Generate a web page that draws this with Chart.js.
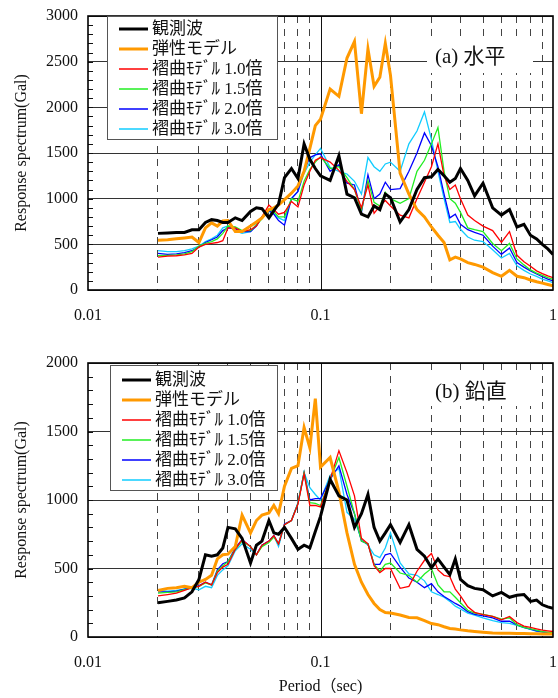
<!DOCTYPE html>
<html><head><meta charset="utf-8">
<script src="https://cdn.jsdelivr.net/npm/chart.js@4.4.1/dist/chart.umd.min.js"></script>
<style>
html,body{margin:0;padding:0;background:#fff;width:558px;height:698px;overflow:hidden}
canvas{position:absolute;left:0}
#c1{top:0}
#c2{top:330px}
</style></head><body>
<canvas id="c1" width="558" height="330"></canvas>
<canvas id="c2" width="558" height="368"></canvas>
<script>
// ---- data ----
const periods = [0.02,0.022,0.024,0.026,0.028,0.03,0.032,0.034,0.036,0.038,0.04,0.043,0.046,0.05,0.053,0.056,0.06,0.063,0.066,0.07,0.075,0.08,0.085,0.09,0.095,0.1,0.11,0.12,0.13,0.14,0.15,0.16,0.17,0.18,0.19,0.2,0.22,0.24,0.26,0.28,0.3,0.32,0.34,0.36,0.38,0.4,0.43,0.46,0.5,0.55,0.6,0.65,0.7,0.75,0.8,0.85,0.9,0.95,1.0];
const seriesLabels = ['観測波','弾性モデル','褶曲ﾓﾃﾞﾙ 1.0倍','褶曲ﾓﾃﾞﾙ 1.5倍','褶曲ﾓﾃﾞﾙ 2.0倍','褶曲ﾓﾃﾞﾙ 3.0倍'];

// (a) horizontal
const hObserved = [620,625,630,630,660,660,740,770,760,740,740,790,760,860,900,890,790,870,940,1230,1330,1220,1600,1430,1330,1250,1200,1470,1050,1010,830,800,920,880,1050,1010,745,880,1100,1230,1240,1320,1250,1180,1220,1330,1200,1030,1170,900,820,880,690,720,600,560,500,450,390];
const hElastic = [545,550,560,570,580,520,680,735,700,755,760,640,640,700,745,790,880,900,930,990,1060,1140,1300,1550,1800,1870,2200,2120,2540,2720,1930,2640,2230,2330,2700,2350,1280,1050,880,800,690,600,520,330,360,340,300,280,250,190,150,215,150,135,110,90,75,60,47];
const hFold10 = [360,370,375,385,400,470,500,510,520,540,680,680,640,660,700,800,930,880,830,850,970,910,1150,1300,1420,1450,1400,1310,1190,1100,900,1150,840,920,980,920,820,790,1000,1180,1350,1600,1250,1100,1150,1000,820,760,700,650,520,640,380,310,260,210,180,155,135];
const hFold15 = [375,380,385,395,420,480,510,530,560,620,700,690,650,650,710,780,880,860,800,800,1000,970,1190,1320,1400,1460,1330,1350,1230,1100,870,1200,960,920,1070,1000,950,1000,1300,1420,1600,1780,1300,1000,950,850,680,660,640,510,430,510,340,275,220,185,160,135,117];
const hFold20 = [400,390,395,410,430,470,520,550,580,650,680,670,640,640,700,800,870,830,760,710,1000,1080,1310,1450,1480,1490,1300,1370,1170,1150,850,1260,1000,1050,1180,1100,1110,1300,1500,1720,1580,1350,1050,790,830,720,660,630,600,480,390,460,300,250,210,175,145,120,100];
const hFold30 = [430,420,420,430,450,480,530,560,600,680,700,650,620,640,720,800,860,840,790,760,1000,1080,1280,1400,1480,1550,1340,1300,1270,1190,1050,1450,1350,1300,1380,1400,1300,1600,1740,1950,1650,1300,1000,740,750,665,580,545,530,440,350,400,265,215,175,150,120,100,80];

// (b) vertical
const vObserved = [250,260,270,285,330,420,600,590,600,650,800,790,720,540,670,700,850,760,750,800,720,640,670,650,770,880,1150,1030,1000,800,900,1040,800,700,760,820,690,820,640,590,505,570,510,455,570,420,375,355,345,300,325,290,305,310,260,270,235,220,210];
const vElastic = [340,355,360,370,360,400,420,450,570,600,605,660,890,760,850,890,905,960,900,1100,1230,1250,1530,1380,1740,1240,1310,1060,760,530,400,310,245,200,178,175,160,142,140,120,98,90,75,62,58,52,45,40,35,30,28,27,26,25,24,23,22,22,21];
const vFold10 = [300,310,320,340,360,370,400,380,470,510,530,640,710,660,600,670,700,740,680,820,850,970,1190,960,960,950,1150,1360,1200,1030,720,680,520,470,500,500,355,370,480,560,610,490,450,440,350,300,220,180,163,150,125,150,105,80,70,60,50,45,40];
const vFold15 = [320,325,330,345,360,370,395,380,480,520,550,640,700,660,600,660,690,730,680,820,850,975,1200,980,975,960,1150,1310,1100,900,700,680,530,480,530,540,467,450,400,460,500,380,330,330,290,250,195,175,165,150,130,140,88,70,60,50,40,35,30];
const vFold20 = [330,330,335,350,360,375,400,380,490,535,550,650,710,660,600,670,700,740,680,825,850,975,1200,1000,1010,1010,1150,1250,1040,900,700,680,530,530,600,610,510,430,400,360,390,330,295,270,245,225,185,165,155,140,115,115,88,70,58,45,37,30,27];
const vFold30 = [340,335,340,350,355,345,370,360,450,490,520,630,680,640,600,670,700,740,660,820,850,980,1200,1090,1040,1000,1180,1230,910,860,710,670,600,580,650,760,540,460,450,410,330,310,290,260,225,205,175,160,140,120,105,100,85,68,55,42,35,28,22];

const xTickValues = [0.01,0.02,0.03,0.04,0.05,0.06,0.07,0.08,0.09,0.1,0.2,0.3,0.4,0.5,0.6,0.7,0.8,0.9,1];
const xTickLabels = {0.01:'0.01', 0.1:'0.1', 1:'1'};
const xSolidLines = [0.1];

// ---- styles ----
const colors = ['#000000','#ff9900','#ff0000','#22ee22','#0000ff','#11ccff'];
const widths = [3,3,1.3,1.3,1.3,1.3];
const serif = "'Liberation Serif','Noto Sans CJK JP'";

function makeDatasets(list){
  return list.map((vals,i)=>({
    label: seriesLabels[i],
    data: periods.map((p,k)=>({x:p, y:vals[k]})),
    borderColor: colors[i], backgroundColor: colors[i],
    borderWidth: widths[i], pointRadius: 0, tension: 0, fill:false
  }));
}

const deco = {
  id:'deco',
  beforeDatasetsDraw(chart, args, o){
    const {ctx, chartArea:a, scales:{x,y}} = chart;
    ctx.save();
    ctx.strokeStyle = '#111'; ctx.lineWidth = 1;
    ctx.beginPath();
    xSolidLines.forEach(v=>{const px=Math.round(x.getPixelForValue(v))+0.5; ctx.moveTo(px,a.top); ctx.lineTo(px,a.bottom);});
    for(let v=o.minorStep; v<y.max; v+=o.minorStep){
      const py=Math.round(y.getPixelForValue(v))+0.5; ctx.moveTo(a.left,py); ctx.lineTo(a.left+5,py);
    }
    ctx.stroke();
    // panel label
    const L=o.label;
    ctx.fillStyle='#fff';
    ctx.fillRect(a.left+L.bx, a.top+L.by, L.bw, L.bh);
    ctx.fillStyle='#111';
    ctx.font = "21px "+serif;
    ctx.textBaseline='middle'; ctx.textAlign='left';
    ctx.fillText(L.text, a.left+L.tx, a.top+L.ty);
    ctx.restore();
  },
  afterDatasetsDraw(chart, args, o){
    const {ctx, chartArea:a} = chart;
    ctx.save();
    // frame
    ctx.strokeStyle='#000'; ctx.lineWidth=1.6;
    ctx.strokeRect(a.left, a.top, a.right-a.left, a.bottom-a.top);
    // legend
    const G=o.legend;
    const lx=a.left+G.dx, ly=a.top+G.dy;
    ctx.fillStyle='#fff'; ctx.fillRect(lx,ly,G.w,G.h);
    ctx.strokeStyle='#555'; ctx.lineWidth=1;
    ctx.strokeRect(lx+0.5,ly+0.5,G.w,G.h);
    ctx.font="17px "+serif; ctx.textBaseline='middle'; ctx.textAlign='left';
    chart.data.datasets.forEach((d,i)=>{
      const yy=ly+G.first+i*G.step;
      ctx.strokeStyle=d.borderColor; ctx.lineWidth=d.borderWidth>2?3:1.5;
      ctx.beginPath(); ctx.moveTo(lx+12,yy); ctx.lineTo(lx+41,yy); ctx.stroke();
      ctx.fillStyle='#111';
      ctx.fillText(d.label, lx+45, yy+1);
    });
    ctx.restore();
  }
};

function makeChart(id, lists, yMax, padTop, axisH, showXTitle, label, legend){
  return new Chart(document.getElementById(id), {
    type:'line',
    data:{datasets: makeDatasets(lists)},
    options:{
      responsive:false, animation:false, devicePixelRatio:1,
      layout:{padding:{left:0,right:5,top:padTop,bottom:0}},
      plugins:{legend:{display:false}, tooltip:{enabled:false},
        deco:{minorStep:100, label, legend}},
      scales:{
        x:{type:'logarithmic', min:0.01, max:1,
          afterBuildTicks: s=>{ s.ticks = xTickValues.map(v=>({value:v})); },
          afterFit: s=>{ s.height = axisH; s.paddingLeft = 0; s.paddingRight = 0; },
          ticks:{autoSkip:false, maxRotation:0, padding:16, color:'#111',
            font:{family:serif, size:16},
            callback: v => xTickLabels[v] ?? ''},
          grid:{drawTicks:false, lineWidth:1,
            color: c => (c.tick && (c.tick.value===0.01||c.tick.value===1||c.tick.value===0.1)) ? 'rgba(0,0,0,0)' : '#444'},
          border:{display:false, dash:[7,6]},
          title:{display:showXTitle, text:'Period（sec)', color:'#111', font:{family:serif,size:16}, padding:{top:0,bottom:2}}
        },
        y:{min:0, max:yMax,
          afterFit: s=>{ s.width = 88; s.paddingTop = 0; s.paddingBottom = 0; },
          ticks:{stepSize:500, padding:10, color:'#111', font:{family:serif,size:16},
            callback: v => String(v)},
          grid:{drawTicks:false, color:'#333', lineWidth:1},
          border:{display:false},
          title:{display:true, text:'Response spectrum(Gal)', color:'#111', font:{family:serif,size:16}, padding:{top:12,bottom:0}}
        }
      }
    },
    plugins:[deco]
  });
}

makeChart('c1', [hObserved,hElastic,hFold10,hFold15,hFold20,hFold30], 3000, 16, 40, false,
  {text:'(a) 水平', bx:339, by:26, bw:106, bh:31, tx:347, ty:41},
  {dx:19, dy:0, w:170, h:123, first:13, step:20});
makeChart('c2', [vObserved,vElastic,vFold10,vFold15,vFold20,vFold30], 2000, 33, 61, true,
  {text:'(b) 鉛直', bx:339, by:10, bw:106, bh:33, tx:347, ty:29},
  {dx:22, dy:2, w:167, h:125, first:15, step:20});
</script>
</body></html>
